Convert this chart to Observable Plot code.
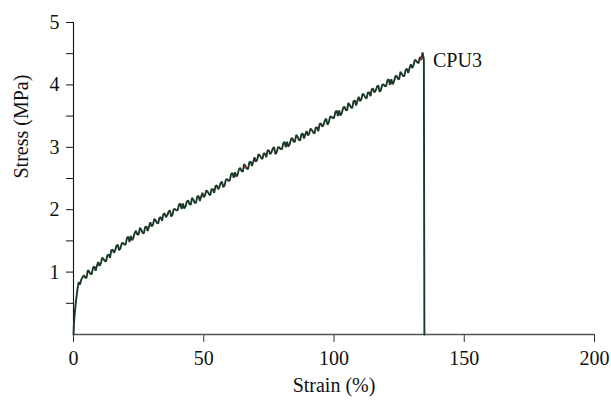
<!DOCTYPE html>
<html>
<head>
<meta charset="utf-8">
<script src="https://cdn.jsdelivr.net/npm/d3@7"></script>
<script src="https://cdn.jsdelivr.net/npm/@observablehq/plot@0.6"></script>
<style>
  html, body { margin: 0; padding: 0; background: #fff; }
  #chart svg { display: block; }
</style>
</head>
<body>
<div id="chart"></div>
<script>
// Strain (%) values
const strain = [0, 0.2, 0.5, 1, 1.5,
  2, 2.5, 3, 3.5, 4, 4.5, 5, 5.5, 6, 6.5, 7, 7.5, 8, 8.5, 9, 9.5, 10, 10.5, 11, 11.5,
  12, 12.5, 13, 13.5, 14, 14.5, 15, 15.5, 16, 16.5, 17, 17.5, 18, 18.5, 19, 19.5, 20, 20.5, 21, 21.5,
  22, 22.5, 23, 23.5, 24, 24.5, 25, 25.5, 26, 26.5, 27, 27.5, 28, 28.5, 29, 29.5, 30, 30.5, 31, 31.5,
  32, 32.5, 33, 33.5, 34, 34.5, 35, 35.5, 36, 36.5, 37, 37.5, 38, 38.5, 39, 39.5, 40, 40.5, 41, 41.5,
  42, 42.5, 43, 43.5, 44, 44.5, 45, 45.5, 46, 46.5, 47, 47.5, 48, 48.5, 49, 49.5, 50, 50.5, 51, 51.5,
  52, 52.5, 53, 53.5, 54, 54.5, 55, 55.5, 56, 56.5, 57, 57.5, 58, 58.5, 59, 59.5, 60, 60.5, 61, 61.5,
  62, 62.5, 63, 63.5, 64, 64.5, 65, 65.5, 66, 66.5, 67, 67.5, 68, 68.5, 69, 69.5, 70, 70.5, 71, 71.5,
  72, 72.5, 73, 73.5, 74, 74.5, 75, 75.5, 76, 76.5, 77, 77.5, 78, 78.5, 79, 79.5, 80, 80.5, 81, 81.5,
  82, 82.5, 83, 83.5, 84, 84.5, 85, 85.5, 86, 86.5, 87, 87.5, 88, 88.5, 89, 89.5, 90, 90.5, 91, 91.5,
  92, 92.5, 93, 93.5, 94, 94.5, 95, 95.5, 96, 96.5, 97, 97.5, 98, 98.5, 99, 99.5, 100, 100.5, 101, 101.5,
  102, 102.5, 103, 103.5, 104, 104.5, 105, 105.5, 106, 106.5, 107, 107.5, 108, 108.5, 109, 109.5, 110, 110.5, 111, 111.5,
  112, 112.5, 113, 113.5, 114, 114.5, 115, 115.5, 116, 116.5, 117, 117.5, 118, 118.5, 119, 119.5, 120, 120.5, 121, 121.5,
  122, 122.5, 123, 123.5, 124, 124.5, 125, 125.5, 126, 126.5, 127, 127.5, 128, 128.5, 129, 129.5, 130, 130.5, 131, 131.5,
  132, 132.5, 133, 133.5, 134, 134.5, 134.7];
// Stress (MPa) values
const stress = [0, 0.2, 0.35, 0.55, 0.72,
  0.84, 0.80, 0.88, 0.92, 0.95, 0.91, 0.91, 1.03, 1.01, 0.97, 0.97, 1.07, 1.09, 1.02, 1.10, 1.16, 1.10, 1.14, 1.23, 1.21,
  1.18, 1.17, 1.27, 1.28, 1.23, 1.35, 1.36, 1.31, 1.35, 1.42, 1.44, 1.35, 1.38, 1.46, 1.47, 1.44, 1.44, 1.54, 1.57, 1.48,
  1.58, 1.51, 1.55, 1.63, 1.66, 1.60, 1.60, 1.71, 1.68, 1.63, 1.62, 1.72, 1.73, 1.66, 1.73, 1.80, 1.73, 1.76, 1.85, 1.83,
  1.79, 1.78, 1.87, 1.88, 1.82, 1.93, 1.94, 1.88, 1.91, 1.97, 1.99, 1.89, 1.92, 2.01, 2.01, 1.99, 1.99, 2.08, 2.10, 2.01,
  2.10, 2.02, 2.05, 2.13, 2.15, 2.09, 2.08, 2.19, 2.16, 2.11, 2.11, 2.21, 2.22, 2.14, 2.21, 2.27, 2.20, 2.23, 2.31, 2.29,
  2.25, 2.23, 2.33, 2.33, 2.27, 2.38, 2.39, 2.33, 2.36, 2.43, 2.45, 2.36, 2.39, 2.48, 2.49, 2.46, 2.47, 2.57, 2.59, 2.51,
  2.60, 2.53, 2.56, 2.65, 2.67, 2.62, 2.61, 2.73, 2.70, 2.66, 2.65, 2.76, 2.77, 2.70, 2.77, 2.84, 2.77, 2.80, 2.89, 2.87,
  2.83, 2.81, 2.90, 2.90, 2.84, 2.95, 2.95, 2.89, 2.92, 2.98, 3.00, 2.89, 2.92, 3.00, 3.00, 2.97, 2.97, 3.06, 3.09, 3.00,
  3.09, 3.01, 3.05, 3.13, 3.15, 3.09, 3.09, 3.20, 3.17, 3.12, 3.11, 3.21, 3.22, 3.14, 3.21, 3.26, 3.19, 3.22, 3.30, 3.28,
  3.24, 3.22, 3.32, 3.32, 3.26, 3.38, 3.38, 3.33, 3.36, 3.43, 3.46, 3.36, 3.40, 3.49, 3.49, 3.47, 3.47, 3.56, 3.59, 3.50,
  3.59, 3.51, 3.55, 3.63, 3.65, 3.60, 3.59, 3.71, 3.68, 3.64, 3.63, 3.74, 3.75, 3.67, 3.75, 3.81, 3.74, 3.77, 3.86, 3.84,
  3.80, 3.78, 3.88, 3.88, 3.82, 3.93, 3.94, 3.88, 3.91, 3.97, 3.99, 3.89, 3.92, 4.00, 4.01, 3.98, 3.98, 4.07, 4.09, 4.00,
  4.09, 4.01, 4.05, 4.13, 4.15, 4.10, 4.09, 4.21, 4.18, 4.14, 4.14, 4.24, 4.26, 4.19, 4.27, 4.33, 4.27, 4.31, 4.40, 4.39,
  4.36, 4.35, 4.45, 4.40, 4.52, 4.41, 0];

// small red markers visible on the curve
const redStrain = [66, 133.5];
const redStress = [2.68, 4.43];

const seriesLabel = "CPU3";
const labelStrain = 138;
const labelStress = 4.29;

const xTicks = [0, 50, 100, 150, 200];
const yTicks = [0.5, 1, 1.5, 2, 2.5, 3, 3.5, 4, 4.5, 5];

const xLabel = "Strain (%)";
const yLabel = "Stress (MPa)";

const data = strain.map((s, i) => ({strain: s, stress: stress[i]}));
const red = redStrain.map((s, i) => ({strain: s, stress: redStress[i]}));

const ink = "#1c3826";

const chart = Plot.plot({
  width: 611,
  height: 400,
  marginLeft: 73,
  marginRight: 17,
  marginTop: 22,
  marginBottom: 66,
  x: {domain: [0, 200]},
  y: {domain: [0, 5]},
  style: {fontFamily: "'Liberation Serif', serif", fontSize: "20px", color: "#111", background: "#fff"},
  marks: [
    Plot.axisY({ticks: yTicks, tickSize: 7, tickPadding: 7, label: null,
      tickFormat: d => Number.isInteger(d) ? String(d) : "", stroke: "#111"}),
    Plot.axisX({ticks: xTicks, tickSize: 8, tickPadding: 8, label: null, stroke: "#333"}),
    Plot.ruleX([0], {y1: 0, y2: 5, stroke: "#111", strokeWidth: 1.1}),
    Plot.ruleY([0], {x1: 0, x2: 200, stroke: "#555", strokeWidth: 1.4}),
    Plot.line(data, {x: "strain", y: "stress", stroke: ink, strokeWidth: 1.9, strokeLinejoin: "miter"}),
    Plot.dot(red, {x: "strain", y: "stress", r: 1.3, fill: "#b02a2a", stroke: "none"}),
    Plot.text([seriesLabel], {x: labelStrain, y: labelStress, text: d => d, textAnchor: "start", lineAnchor: "bottom", fill: "#111"}),
    Plot.text([xLabel], {frameAnchor: "bottom", dy: 51, text: d => d, lineAnchor: "middle", fill: "#111"}),
    Plot.text([yLabel], {frameAnchor: "left", dx: -52, rotate: -90, text: d => d, lineAnchor: "middle", fill: "#111"})
  ]
});
document.getElementById("chart").appendChild(chart);
</script>
</body>
</html>
